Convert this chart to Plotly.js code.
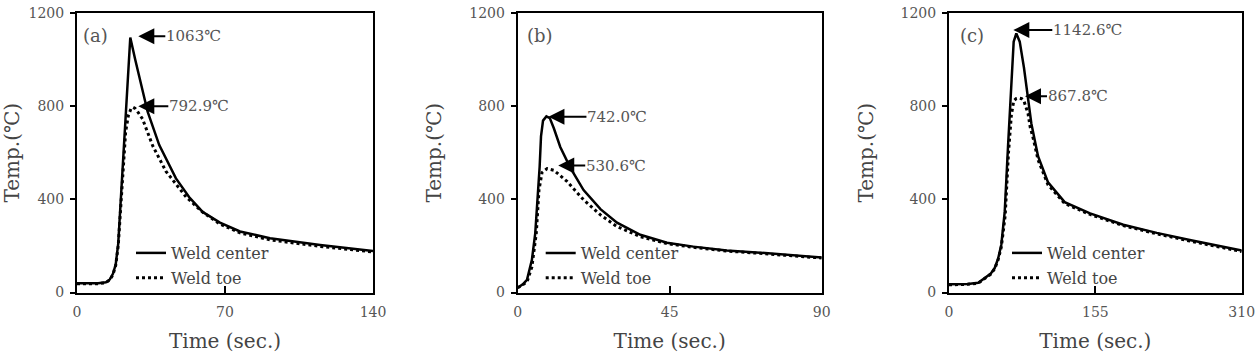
<!DOCTYPE html>
<html><head><meta charset="utf-8">
<script src="https://cdn.plot.ly/plotly-3.0.1.min.js"></script>
<style>html,body{margin:0;padding:0;background:#fff}</style>
</head><body><div id="chart" style="width:1257px;height:353px"></div>
<script>
// ---- data ----
const seriesNames = ['Weld center', 'Weld toe'];
const panelLabels = ['(a)', '(b)', '(c)'];
const xTitle = 'Time (sec.)';
const yTitle = 'Temp.(℃)';

// panel (a)
const timeA_center = [0, 10, 13.7, 15.5, 17, 18.3, 19.5, 25.2, 27.5, 29.5, 33.4, 38.9, 46.8, 53, 59.4, 67.6, 77.1, 91.3, 115, 140];
const tempA_center = [40, 40, 44, 56, 80, 120, 210, 1095, 1001, 920, 776, 633, 490, 410, 346, 300, 262, 233, 204, 178];
const timeA_toe = [0, 10, 13.7, 15.5, 17, 18.3, 19.5, 21.5, 23, 24.3, 25.5, 26.5, 27.5, 29, 31, 35.8, 42.1, 51.6, 59.4, 67.6, 77.1, 91.3, 115, 140];
const tempA_toe = [38, 38, 42, 54, 76, 116, 200, 480, 690, 760, 788, 795, 790, 772, 745, 630, 520, 410, 345, 294, 256, 226, 198, 174];

// panel (b)
const timeB_center = [0, 1.5, 2.75, 4.2, 5.2, 5.9, 6.5, 6.9, 7.5, 8.5, 9.5, 10.7, 12.6, 15.6, 19.5, 24.5, 29.4, 36.3, 44.2, 52, 61.9, 71.7, 81.6, 90];
const tempB_center = [20, 35, 54, 140, 255, 398, 541, 670, 738, 756, 749, 705, 625, 535, 440, 358, 300, 248, 214, 197, 180, 171, 161, 150];
const timeB_toe = [0, 1.5, 2.75, 4.2, 5.5, 6.3, 7.2, 8.7, 10.7, 14.6, 19.5, 24.5, 29.4, 36.3, 44.2, 52, 61.9, 71.7, 81.6, 90];
const tempB_toe = [20, 32, 45, 110, 255, 440, 515, 532, 525, 477, 398, 333, 283, 240, 210, 194, 178, 168, 158, 148];

// panel (c)
const timeC_center = [0, 20, 31, 37.8, 44, 48.4, 52, 55.4, 59, 62.5, 66, 68.5, 71.3, 74.9, 79.4, 83.7, 87.2, 94.3, 104.9, 122.5, 149.4, 184.6, 220, 255, 285, 310];
const tempC_center = [35, 37, 42, 60, 80, 105, 145, 205, 346, 627, 908, 1077, 1112, 1077, 965, 838, 726, 585, 473, 388, 340, 291, 256, 225, 202, 180];
const timeC_toe = [0, 20, 31, 37.8, 44, 48.4, 52, 55.4, 59.5, 63, 66, 68.5, 71, 74, 77, 79.4, 81.5, 83.7, 86, 89, 94.3, 104.9, 122.5, 149.4, 184.6, 220, 255, 285, 310];
const tempC_toe = [33, 35, 40, 58, 78, 102, 140, 195, 330, 600, 760, 822, 832, 835, 832, 822, 800, 768, 710, 665, 570, 462, 382, 335, 287, 252, 221, 198, 176];

// peak call-outs
const peakLabelsA = ['1063℃', '792.9℃'];
const peakTimeA = [29, 29];
const peakTempA = [1100, 800];
const peakLabelsB = ['742.0℃', '530.6℃'];
const peakTimeB = [9.1, 12.0];
const peakTempB = [755, 545];
const peakLabelsC = ['1142.6℃', '867.8℃'];
const peakTimeC = [68.1, 80.5];
const peakTempC = [1127, 843];

// axis ticks
const xTicksA = [0, 70, 140];
const xTicksB = [0, 45, 90];
const xTicksC = [0, 155, 310];
const yTicks = [0, 400, 800, 1200];

// ---- styling / layout ----
const FONT = 'DejaVu Serif';
const W = 1257, H = 353;
const plotTop = 13, plotBottom = 292.5;
const panels = [
  {left: 77, right: 373, xr: [0, 140], xt: xTicksA, tc: timeA_center, yc: tempA_center, tt: timeA_toe, yt: tempA_toe,
   pl: peakLabelsA, px: peakTimeA, py: peakTempA, ax: [27, 30], legX: 131, lab: 0.064},
  {left: 517.7, right: 821.7, xr: [0, 90], xt: xTicksB, tc: timeB_center, yc: tempB_center, tt: timeB_toe, yt: tempB_toe,
   pl: peakLabelsB, px: peakTimeB, py: peakTempB, ax: [38, 27], legX: 540.7, lab: 0.073},
  {left: 949, right: 1241.7, xr: [0, 310], xt: xTicksC, tc: timeC_center, yc: tempC_center, tt: timeC_toe, yt: tempC_toe,
   pl: peakLabelsC, px: peakTimeC, py: peakTempC, ax: [39, 22], legX: 1007, lab: 0.077}
];

const traces = [];
const layout = {
  width: W, height: H,
  margin: {l: 0, r: 0, t: 0, b: 0},
  paper_bgcolor: '#fff', plot_bgcolor: '#fff',
  font: {family: FONT, color: '#444'},
  annotations: []
};

panels.forEach((p, i) => {
  const n = i === 0 ? '' : String(i + 1);
  const xa = 'x' + n, ya = 'y' + n;
  const legName = 'legend' + n;
  traces.push({
    x: p.tc, y: p.yc, type: 'scatter', mode: 'lines', name: seriesNames[0],
    xaxis: xa, yaxis: ya, legend: legName, legendgroup: 'c' + i,
    line: {color: '#000', width: 2.5}, hoverinfo: 'skip'
  });
  traces.push({
    x: p.tt, y: p.yt, type: 'scatter', mode: 'lines', name: seriesNames[1],
    xaxis: xa, yaxis: ya, legend: legName, legendgroup: 't' + i,
    line: {color: '#000', width: 3, dash: 'dot'}, hoverinfo: 'skip'
  });
  layout['xaxis' + n] = {
    domain: [p.left / W, p.right / W], anchor: ya, range: p.xr,
    tickvals: p.xt, ticktext: p.xt.map(String), ticks: 'inside', ticklen: 7, tickwidth: 2, tickcolor: '#000',
    showline: true, linewidth: 2, linecolor: '#000', mirror: true,
    showgrid: false, zeroline: false, automargin: false, ticklabelstandoff: 6,
    tickfont: {family: FONT, size: 14, color: '#555'},
    title: {text: xTitle, font: {family: FONT, size: 20, color: '#444'}, standoff: 16}
  };
  layout['yaxis' + n] = {
    domain: [1 - plotBottom / H, 1 - plotTop / H], anchor: xa, range: [0, 1200],
    tickvals: yTicks, ticktext: yTicks.map(String), ticks: 'outside', ticklen: 5, tickwidth: 2, tickcolor: '#000',
    showline: true, linewidth: 2, linecolor: '#000', mirror: true,
    showgrid: false, zeroline: false, automargin: false, ticklabelstandoff: 3,
    tickfont: {family: FONT, size: 14, color: '#555'},
    title: {text: yTitle, font: {family: FONT, size: 20, color: '#444'}, standoff: 22}
  };
  layout[legName] = {
    x: p.legX / W, xanchor: 'left', y: 1 - 236 / H, yanchor: 'top',
    bgcolor: 'rgba(0,0,0,0)', borderwidth: 0,
    font: {family: FONT, size: 16, color: '#444'},
    traceorder: 'grouped', tracegroupgap: 1
  };
  p.pl.forEach((txt, k) => {
    layout.annotations.push({
      xref: xa, yref: ya, x: p.px[k], y: p.py[k], text: txt,
      showarrow: true, arrowhead: 2, arrowsize: 1.6, arrowwidth: 2, arrowcolor: '#000',
      ax: p.ax[k], ay: 0, xanchor: 'left', yanchor: 'middle',
      font: {family: FONT, size: 15, color: '#555'}, borderpad: 0
    });
  });
  layout.annotations.push({
    xref: xa + ' domain', yref: ya + ' domain', x: p.lab, y: 0.921,
    text: panelLabels[i], showarrow: false, xanchor: 'center', yanchor: 'middle',
    font: {family: FONT, size: 18, color: '#555'}
  });
});

Plotly.newPlot('chart', traces, layout, {staticPlot: true, displayModeBar: false});
</script>
</body></html>
